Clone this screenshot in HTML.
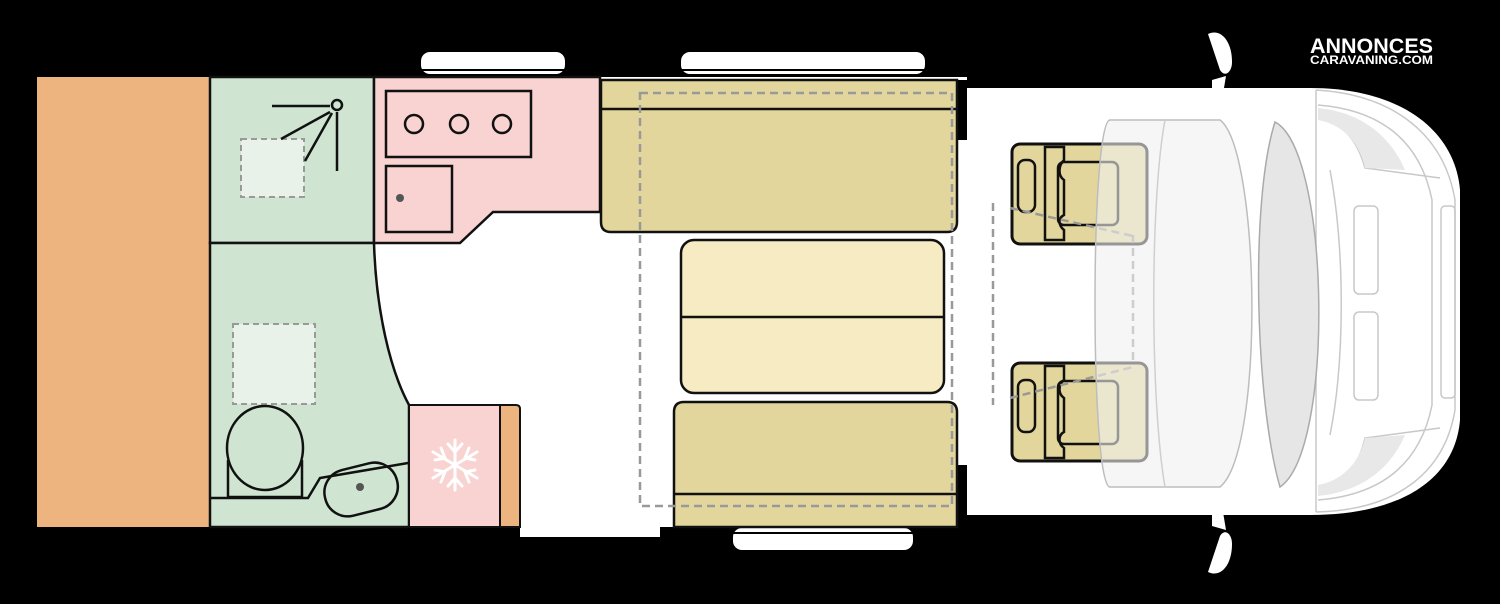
<!DOCTYPE html>
<html><head><meta charset="utf-8"><style>
html,body{margin:0;padding:0;background:#000;}
svg{display:block}
</style></head><body>
<svg width="1500" height="604" viewBox="0 0 1500 604" xmlns="http://www.w3.org/2000/svg">
<rect width="1500" height="604" fill="#000"/>
<!-- windows -->
<rect x="421" y="52" width="144" height="22" rx="9" fill="#fff"/>
<line x1="421" y1="70" x2="565" y2="70" stroke="#000" stroke-width="2"/>
<rect x="681" y="52" width="244" height="22" rx="9" fill="#fff"/>
<line x1="681" y1="70" x2="925" y2="70" stroke="#000" stroke-width="2"/>
<rect x="733" y="528" width="180" height="22" rx="9" fill="#fff"/>
<line x1="733" y1="533" x2="913" y2="533" stroke="#000" stroke-width="2"/>
<!-- floor -->
<rect x="374" y="77" width="593" height="450" fill="#fff"/>
<rect x="520" y="520" width="140" height="17" fill="#fff"/>
<!-- cab -->
<path d="M967,88 H1310 C1400,88 1455,130 1460,190 V420 C1455,480 1400,515 1310,515 H967 Z" fill="#fff"/>
<g fill="none" stroke="#c8c8c8" stroke-width="1.5">
<path d="M1316,90 C1400,95 1445,140 1455,200 V410 C1445,470 1400,510 1316,512"/>
<path d="M1318,105 C1380,110 1420,140 1432,200 V405 C1420,465 1380,495 1318,500"/>
<path d="M1318,117 C1350,125 1360,150 1365,168 L1440,178"/>
<path d="M1318,487 C1350,480 1360,460 1365,438 L1440,428"/>
<rect x="1354" y="206" width="24" height="88" rx="5"/>
<rect x="1354" y="312" width="24" height="88" rx="5"/>
<rect x="1441" y="206" width="14" height="192" rx="4"/>
<path d="M1330,170 C1345,250 1345,360 1330,435"/>
<path d="M1316,90 V512"/>
</g>
<path d="M1318,108 C1360,112 1390,135 1405,170 L1365,168 C1360,145 1345,125 1318,120 Z" fill="#e8e8e8"/>
<path d="M1318,496 C1360,492 1390,470 1405,435 L1365,438 C1360,460 1345,480 1318,485 Z" fill="#e8e8e8"/>
<!-- seats -->
<g stroke="#111" stroke-width="3">
<rect x="1012" y="144" width="135" height="100" rx="8" fill="#e3d69c"/>
<rect x="1012" y="363" width="135" height="98" rx="8" fill="#e3d69c"/>
</g>
<g fill="none" stroke="#111" stroke-width="2.5">
<rect x="1018" y="160" width="17" height="52" rx="7"/>
<rect x="1018" y="380" width="17" height="52" rx="7"/>
<path d="M1045,147 V240 H1064 V230 C1058,225 1058,218 1064,215 V180 C1058,176 1058,166 1064,160 V147 Z"/>
<path d="M1045,366 V458 H1064 V448 C1058,444 1058,435 1064,432 V398 C1058,394 1058,385 1064,380 V366 Z"/>
<rect x="1058" y="162" width="60" height="63" rx="6"/>
<rect x="1058" y="381" width="60" height="63" rx="6"/>
</g>
<g fill="none" stroke="#999" stroke-width="2.5" stroke-dasharray="8,5">
<path d="M993,203 V405 M1133,235 V365 M1010,208 L1133,236 M1010,398 L1133,367"/>
</g>
<!-- windscreen (translucent, over seats) -->
<path d="M1110,120 H1220 C1260,150 1265,450 1220,487 H1110 C1090,487 1090,120 1110,120 Z" fill="#f0f0f0" fill-opacity="0.6" stroke="#bdbdbd" stroke-width="1.5"/>
<path d="M1165,120 C1150,200 1150,400 1165,487" fill="none" stroke="#cfcfcf" stroke-width="1.5"/>
<path d="M1275,122 C1330,150 1335,450 1280,487 C1255,400 1250,200 1275,122 Z" fill="#e6e6e6" stroke="#aaa" stroke-width="1.5"/>
<!-- mirrors -->
<path d="M1208,34 C1220,28 1232,40 1232,62 C1232,72 1225,78 1220,70 Z" fill="#fff"/>
<path d="M1212,80 L1226,76 L1222,100 C1218,106 1210,104 1212,96 Z" fill="#fff"/>
<path d="M1208,572 C1220,578 1232,566 1232,544 C1232,534 1225,528 1220,536 Z" fill="#fff"/>
<path d="M1212,526 L1226,530 L1222,506 C1218,500 1210,502 1212,510 Z" fill="#fff"/>
<!-- black wall bits -->
<rect x="957" y="80" width="10" height="60" fill="#000"/>
<rect x="957" y="465" width="10" height="62" fill="#000"/>
<!-- rear storage -->
<rect x="37" y="77" width="172" height="450" fill="#eeb47f"/>
<!-- bathroom -->
<g stroke="#111" stroke-width="2.5">
<rect x="210" y="77" width="164" height="166" fill="#d0e5d1"/>
<path d="M210,243 H374 C376,310 390,370 409,405 V527 H210 Z" fill="#d0e5d1"/>
</g>
<rect x="241" y="139" width="63" height="58" fill="#e8f2e8" stroke="#999" stroke-width="2" stroke-dasharray="6,4"/>
<rect x="233" y="324" width="82" height="80" fill="#e8f2e8" stroke="#999" stroke-width="2" stroke-dasharray="6,4"/>
<g fill="none" stroke="#111" stroke-width="2.5">
<circle cx="337" cy="105" r="5"/>
<path d="M272,106 H330 M330,112 L281,139 M332,113 L305,161 M337,112 V171"/>
<ellipse cx="265" cy="448" rx="38" ry="42"/>
<path d="M228,460 V497 H302 V460"/>
<path d="M211,498 H308 L320,478 L408,463"/>
<rect x="324" y="466" width="74" height="47" rx="23" transform="rotate(-14 361 489)"/>
</g>
<circle cx="360" cy="487" r="4" fill="#555"/>
<!-- kitchen -->
<path d="M374,77 H600 V212 H493 L460,243 H374 Z" fill="#f8d3d1" stroke="#111" stroke-width="2.5"/>
<rect x="386" y="91" width="145" height="66" fill="none" stroke="#111" stroke-width="2.5"/>
<g fill="none" stroke="#111" stroke-width="2.5">
<circle cx="414" cy="124" r="9"/><circle cx="459" cy="124" r="9"/><circle cx="502" cy="124" r="9"/>
<rect x="386" y="166" width="66" height="66"/>
</g>
<circle cx="400" cy="198" r="4" fill="#555"/>
<!-- fridge -->
<rect x="409" y="405" width="91" height="122" fill="#f8d3d1" stroke="#111" stroke-width="2"/>
<path d="M500,405 H516 Q520,405 520,409 V527 H500 Z" fill="#eeb47f" stroke="#111" stroke-width="2"/>
<g stroke="#fff" stroke-width="3" fill="none" stroke-linecap="round">
<path d="M455,440 V490 M433,452 L477,478 M433,478 L477,452"/>
<path d="M448,444 L455,452 L462,444 M448,486 L455,478 L462,486 M435,460 L445,458 L441,448 M475,460 L465,458 L469,448 M435,470 L445,472 L441,482 M475,470 L465,472 L469,482"/>
</g>
<!-- seating -->
<g stroke="#111" stroke-width="2.5">
<path d="M601,80 H957 V222 Q957,232 947,232 H611 Q601,232 601,222 Z" fill="#e3d69c"/>
<line x1="601" y1="109" x2="957" y2="109"/>
<rect x="681" y="240" width="263" height="153" rx="13" fill="#f7ebc4"/>
<line x1="681" y1="317" x2="944" y2="317"/>
<path d="M674,412 Q674,402 684,402 H947 Q957,402 957,412 V527 H674 Z" fill="#e3d69c"/>
<line x1="674" y1="494" x2="957" y2="494"/>
</g>
<rect x="640" y="93" width="312" height="413" fill="none" stroke="#999" stroke-width="2.5" stroke-dasharray="8,5"/>
<!-- logo -->
<text x="1310" y="53" font-family="Liberation Sans, sans-serif" font-weight="bold" font-size="21" fill="#fff" textLength="123" lengthAdjust="spacingAndGlyphs">ANNONCES</text>
<text x="1310" y="64" font-family="Liberation Sans, sans-serif" font-weight="bold" font-size="12" fill="#fff" textLength="123" lengthAdjust="spacingAndGlyphs">CARAVANING.COM</text>
</svg>
</body></html>
